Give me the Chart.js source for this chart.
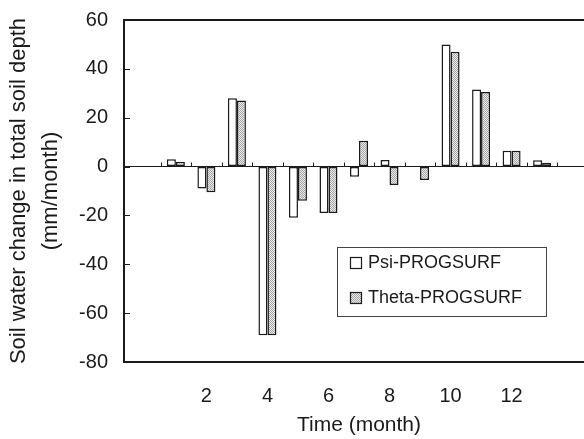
<!DOCTYPE html>
<html>
<head>
<meta charset="utf-8">
<script src="https://cdn.jsdelivr.net/npm/chart.js"></script>
<style>
  html, body { margin: 0; padding: 0; background: #fff; overflow: hidden; }
  #wrap { width: 584px; height: 439px; overflow: hidden; }
</style>
</head>
<body>
<div id="wrap"><canvas id="myChart" width="600" height="439"></canvas></div>
<script>
// Monthly soil water change (mm/month), two model runs
const months = [1, 2, 3, 4, 5, 6, 7, 8, 9, 10, 11, 12, 13];
const psiValues = [3, -9, 28, -69, -21, -19, -4.2, 2.7, 0, 50, 31.6, 6.5, 2.6];
const thetaValues = [2, -10.5, 27, -69, -14, -19, 10.6, -7.5, -5.5, 47, 30.5, 6.5, 1.6];
const seriesNames = ['Psi-PROGSURF', 'Theta-PROGSURF'];
const xTickValues = [2, 4, 6, 8, 10, 12];
const yTickValues = [-80, -60, -40, -20, 0, 20, 40, 60];

const ink = '#1a1a1a';
const font = 'Arial, "Liberation Sans", sans-serif';

// stippled grey fill for the Theta bars
function makeStipple() {
  let c = document.createElement('canvas');
  c.width = 2; c.height = 2;
  let g = c.getContext('2d');
  g.fillStyle = '#ececec'; g.fillRect(0, 0, 2, 2);
  g.fillStyle = '#a4a4a4'; g.fillRect(0, 0, 1, 1); g.fillRect(1, 1, 1, 1);
  return g.createPattern(c, 'repeat');
}
const stipple = makeStipple();

// frame, inward ticks, small marks along the zero line, boxed legend
const framePlugin = {
  id: 'frame',
  afterDatasetsDraw(chart) {
    const ctx = chart.ctx;
    const a = chart.chartArea;
    const x = chart.scales.x, y = chart.scales.y;
    ctx.save();
    ctx.strokeStyle = ink;

    ctx.lineWidth = 1;
    const y0 = y.getPixelForValue(0);
    ctx.beginPath();
    for (let m = 0; m <= 15; m++) {
      const px = Math.round(x.getPixelForValue(m + 0.5)) + 0.5;
      if (px <= a.left + 2 || px >= a.right) continue;
      ctx.moveTo(px, y0);
      ctx.lineTo(px, y0 - 4);
    }
    yTickValues.forEach(v => {
      const py = Math.round(y.getPixelForValue(v)) + 0.5;
      ctx.moveTo(a.left, py);
      ctx.lineTo(a.left + 6, py);
    });
    ctx.stroke();

    ctx.lineWidth = 2;
    ctx.strokeRect(a.left, a.top, a.right - a.left, a.bottom - a.top);
    ctx.restore();
  },
  afterDraw(chart) {
    const ctx = chart.ctx;
    const a = chart.chartArea;
    const lx = a.left + 213, ly = a.top + 227;
    ctx.save();
    ctx.strokeStyle = '#444';
    ctx.lineWidth = 1;
    ctx.strokeRect(lx + 0.5, ly + 0.5, 209, 69);
    ctx.font = '18px ' + font;
    ctx.textBaseline = 'middle';
    chart.data.datasets.forEach((ds, i) => {
      const ry = ly + 10 + i * 35;
      ctx.fillStyle = ds.backgroundColor;
      ctx.fillRect(lx + 13, ry, 12, 12);
      ctx.strokeStyle = ink;
      ctx.lineWidth = 1.2;
      ctx.strokeRect(lx + 13.5, ry + 0.5, 11, 11);
      ctx.fillStyle = ink;
      ctx.fillText(ds.label, lx + 31, ry + 6.5);
    });
    ctx.restore();
  }
};

let ctx = document.getElementById('myChart').getContext('2d');
let chart = new Chart(ctx, {
  type: 'bar',
  data: {
    datasets: [{
      label: seriesNames[0],
      data: months.map((m, i) => ({ x: m, y: psiValues[i] })),
      backgroundColor: '#ffffff',
      borderColor: ink,
      borderWidth: 1.5,
      borderSkipped: false
    }, {
      label: seriesNames[1],
      data: months.map((m, i) => ({ x: m, y: thetaValues[i] })),
      backgroundColor: stipple,
      borderColor: ink,
      borderWidth: 1.5,
      borderSkipped: false
    }]
  },
  options: {
    responsive: false,
    animation: false,
    categoryPercentage: 0.59,
    barPercentage: 1.0,
    layout: { padding: { top: 20, right: 6, left: 0, bottom: 0 } },
    plugins: {
      legend: { display: false },
      tooltip: { enabled: false }
    },
    scales: {
      x: {
        type: 'linear',
        offset: false,
        min: -0.7,
        max: 14.7,
        afterBuildTicks: s => { s.ticks = xTickValues.map(v => ({ value: v })); },
        afterFit: s => { s.height = 77; s.paddingLeft = 0; s.paddingRight = 0; },
        grid: { display: false, offset: false },
        border: { display: false },
        ticks: { color: ink, font: { family: font, size: 20 }, padding: 14 },
        title: {
          display: true,
          text: 'Time (month)',
          color: ink,
          font: { family: font, size: 21 },
          padding: { top: 0, bottom: 1 }
        }
      },
      y: {
        min: -80,
        max: 60,
        afterBuildTicks: s => { s.ticks = yTickValues.map(v => ({ value: v })); },
        afterFit: s => { s.width = 124; s.paddingTop = 0; s.paddingBottom = 0; },
        grid: {
          drawTicks: false,
          color: c => c.tick && c.tick.value === 0 ? ink : 'rgba(0,0,0,0)',
          lineWidth: 1
        },
        border: { display: false },
        ticks: { color: ink, font: { family: font, size: 20 }, padding: 16 },
        title: {
          display: true,
          text: ['Soil water change in total soil depth', '(mm/month)'],
          color: ink,
          font: { family: font, size: 22, lineHeight: 1.45 },
          padding: { top: 3, bottom: 0 }
        }
      }
    }
  },
  plugins: [framePlugin]
});
</script>
</body>
</html>
